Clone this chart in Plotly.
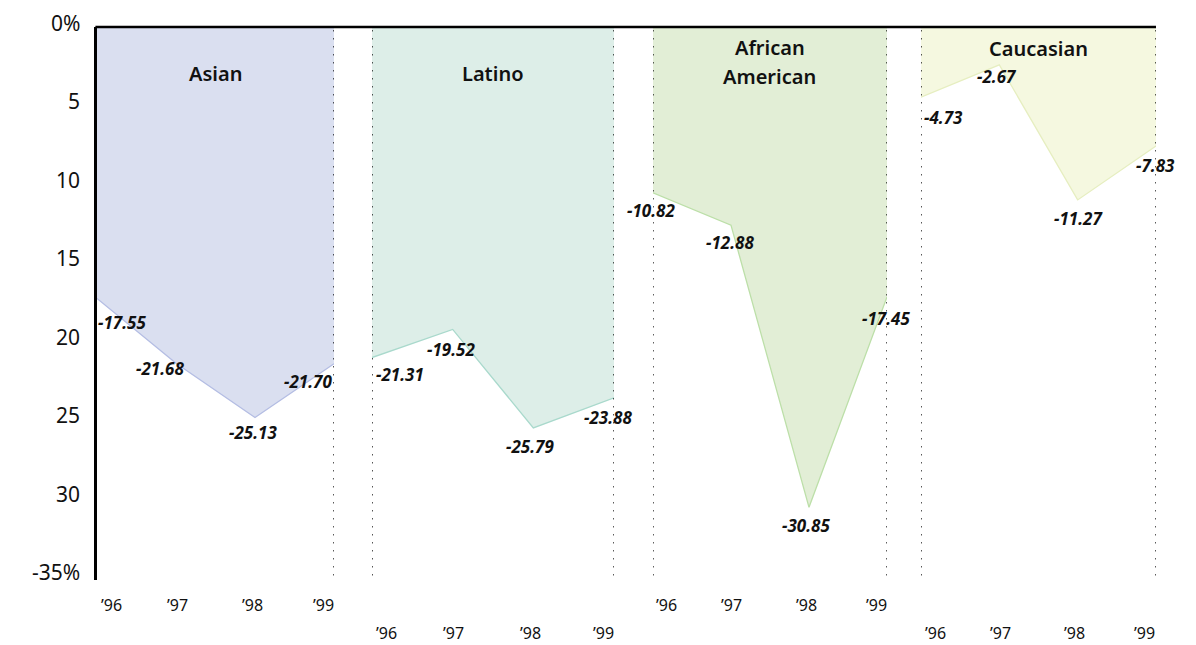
import plotly.graph_objects as go

# Percent change by group, 1996-1999
groups = ["Asian", "Latino", "African<br>American", "Caucasian"]
years = ["’96", "’97", "’98", "’99"]
asian = [-17.55, -21.68, -25.13, -21.70]
latino = [-21.31, -19.52, -25.79, -23.88]
african_american = [-10.82, -12.88, -30.85, -17.45]
caucasian = [-4.73, -2.67, -11.27, -7.83]
y_ticks = [0, -5, -10, -15, -20, -25, -30, -35]
y_tick_text = ["0%", "5", "10", "15", "20", "25", "30", "-35%"]

series = [asian, latino, african_american, caucasian]

# ---- styling ----
fill_colors = ["rgba(218,223,240,1)", "rgba(221,238,232,1)", "rgba(226,238,214,1)", "rgba(245,248,224,1)"]
line_colors = ["#b4bde3", "#a9d9cc", "#bcdfa8", "#e6eec0"]
domains = [(0.0, 0.2238), (0.2597, 0.4882), (0.5250, 0.7460), (0.7781, 1.0)]
Y_RANGE = [-35.48, -0.255]
title_y = [-3.2, -3.2, -2.5, -1.6]          # vertical placement of panel titles (data units)
TITLE_LINE_GAP = 29                         # px between title lines
year_label_shift = [-25, -53, -25, -53]     # staggered year rows (px below plot)
year_xshift = [14, 1, -3, -11]
# nudges for value labels (px), per panel and year
label_nudge = [
    [(25, -24), (-16, -5), (-2, -15), (-26, -18)],
    [(28, -17), (-2, -20), (-3, -19), (-6, -20)],
    [(-2, -18), (-1, -17), (-3, -18), (-1, -22)],
    [(22, -20), (-2, -12), (1, -19), (0, -20)],
]

FONT = "Noto Sans"
fig = go.Figure()
annotations = []
shapes = []


def to_paper(v):
    return (v - Y_RANGE[0]) / (Y_RANGE[1] - Y_RANGE[0])


for i, vals in enumerate(series):
    xa = "x" if i == 0 else f"x{i+1}"
    xpos = list(range(len(years)))
    fig.add_trace(go.Scatter(
        x=xpos, y=vals, xaxis=xa, yaxis="y",
        mode="lines", fill="tozeroy",
        fillcolor=fill_colors[i],
        line=dict(color=line_colors[i], width=1.3),
        hoverinfo="skip", showlegend=False,
    ))
    axis_name = "xaxis" if i == 0 else f"xaxis{i+1}"
    fig.update_layout({axis_name: dict(
        domain=list(domains[i]), range=[0, len(years) - 1], anchor="y",
        showgrid=False, zeroline=False, showticklabels=False, ticks="",
        showline=False, fixedrange=True,
    )})

    # panel title (one annotation per line)
    lines = groups[i].split("<br>")
    n = len(lines)
    for k, line in enumerate(lines):
        annotations.append(dict(
            x=(len(years) - 1) / 2, y=title_y[i], xref=xa, yref="y",
            text=line, showarrow=False, yanchor="middle",
            yshift=((n - 1) / 2 - k) * TITLE_LINE_GAP,
            font=dict(family=FONT, size=20, color="#111", weight=600),
        ))

    # value labels
    for j, v in enumerate(vals):
        dx, dy = label_nudge[i][j]
        annotations.append(dict(
            x=j, y=v, xref=xa, yref="y", text=f"{v:.2f}",
            showarrow=False, xshift=dx, yshift=dy,
            font=dict(family=FONT, size=17, color="#111", weight="bold", style="italic"),
        ))

    # year labels
    for j, yr in enumerate(years):
        annotations.append(dict(
            x=j, y=0, xref=xa, yref="paper", text=yr, showarrow=False,
            xshift=year_xshift[j], yshift=year_label_shift[i], yanchor="middle",
            font=dict(family=FONT, size=16, color="#111"),
        ))

    # dotted panel edges
    x_edges = [len(years) - 1] if i == 0 else [0, len(years) - 1]
    for xe in x_edges:
        shapes.append(dict(
            type="line", xref=xa, yref="paper", x0=xe, x1=xe, y0=0.008, y1=1,
            line=dict(color="#000", width=1.3, dash="1.5px,6.5px"), layer="above",
        ))

# y-axis tick labels
for val, txt in zip(y_ticks, y_tick_text):
    annotations.append(dict(
        x=0, y=to_paper(val), xref="paper", yref="paper", text=txt, showarrow=False,
        xanchor="right", xshift=-15, yanchor="middle",
        font=dict(family=FONT, size=21, color="#111"),
    ))

# top rule
shapes.append(dict(
    type="line", xref="paper", yref="paper", x0=-0.0015, x1=1, y0=1, y1=1,
    line=dict(color="#000", width=2.5), layer="above",
))

fig.update_layout(
    width=1196, height=645,
    margin=dict(l=97, r=40, t=27, b=65),
    paper_bgcolor="white", plot_bgcolor="white",
    yaxis=dict(
        range=Y_RANGE, anchor="x", showgrid=False, zeroline=False,
        showticklabels=False, ticks="", showline=True, linecolor="#000",
        linewidth=3, fixedrange=True,
    ),
    annotations=annotations, shapes=shapes,
)

fig.write_html("out.html")
